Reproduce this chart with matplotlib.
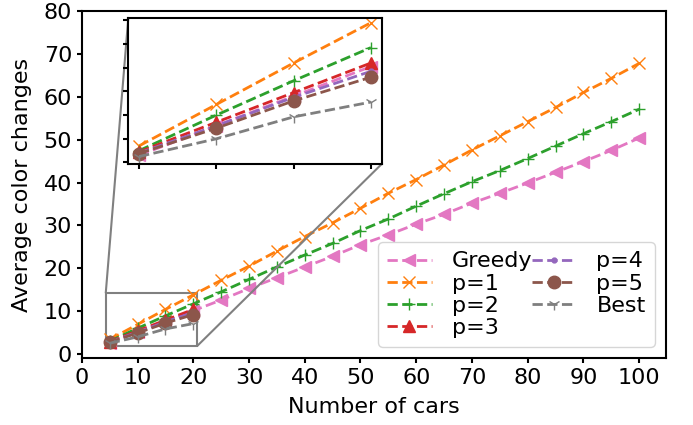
import matplotlib
matplotlib.use("Agg")
import matplotlib.pyplot as plt
from mpl_toolkits.axes_grid1.inset_locator import mark_inset

cars_all = [5, 10, 15, 20, 25, 30, 35, 40, 45, 50, 55, 60, 65, 70, 75, 80, 85, 90, 95, 100]
cars_small = [5, 10, 15, 20]

greedy = [2.6, 5.1, 7.6, 10.1, 12.6, 15.3, 17.8, 20.3, 22.8, 25.5, 27.8, 30.3, 32.6, 35.2, 37.5, 39.9, 42.4, 44.9, 47.5, 50.4]
p1 = [3.4, 6.9, 10.4, 13.8, 17.2, 20.5, 24.0, 27.4, 30.6, 34.0, 37.5, 40.7, 44.1, 47.6, 50.9, 54.2, 57.5, 61.0, 64.3, 67.8]
p2 = [3.0, 6.0, 8.9, 11.7, 14.5, 17.4, 20.3, 23.1, 25.8, 28.8, 31.5, 34.5, 37.4, 40.2, 42.8, 45.6, 48.5, 51.4, 54.2, 57.1]
p3 = [2.9, 5.4, 7.9, 10.4]
p4 = [2.8, 5.1, 7.5, 9.7]
p5 = [2.75, 4.9, 7.2, 9.2]
best = [2.5, 4.0, 5.85, 7.1]

plt.rcParams.update({
    "font.size": 16,
    "axes.linewidth": 1.5,
    "xtick.major.width": 1.5,
    "ytick.major.width": 1.5,
})

series = [
    ("Greedy", cars_all, greedy, "<", "#e377c2", 9),
    ("p=1", cars_all, p1, "x", "#ff7f0e", 9),
    ("p=2", cars_all, p2, "+", "#2ca02c", 9),
    ("p=3", cars_small, p3, "^", "#d62728", 9),
    ("p=4", cars_small, p4, ".", "#9467bd", 7),
    ("p=5", cars_small, p5, "o", "#8c564b", 9),
    ("Best", cars_small, best, "1", "#7f7f7f", 9),
]

fig = plt.figure(figsize=(6.93, 4.25), dpi=100)
ax = fig.add_axes([0.118, 0.1576, 0.8426, 0.8165])
for name, xs, ys, m, c, ms in series:
    ax.plot(xs, ys, linestyle="--", marker=m, color=c, label=name, linewidth=2, markersize=ms)
ax.set_xlim(0, 104.75)
ax.set_ylim(-0.93, 80)
ax.set_xticks(range(0, 101, 10))
ax.set_yticks(range(0, 81, 10))
ax.set_xlabel("Number of cars", labelpad=7)
ax.set_ylabel("Average color changes", labelpad=8)
ax.legend(loc="lower right", ncol=2, columnspacing=0.0, handletextpad=0.9,
          labelspacing=0.1, borderpad=0.4, borderaxespad=0.5, fontsize=16)

axins = fig.add_axes([0.1851, 0.6141, 0.3657, 0.343])
for name, xs, ys, m, c, ms in series:
    axins.plot(xs[:4], ys[:4], linestyle="--", marker=m, color=c, linewidth=2, markersize=ms)
axins.set_xlim(4.3, 20.7)
axins.set_ylim(1.87, 14.18)
axins.set_xticks([5, 10, 15, 20])
axins.set_yticks([2, 4, 6, 8, 10, 12, 14])
axins.set_xticklabels([])
axins.set_yticklabels([])
mark_inset(ax, axins, loc1=2, loc2=4, fc="none", ec="0.5", lw=1.5)

fig.savefig("out.png", dpi=100)
